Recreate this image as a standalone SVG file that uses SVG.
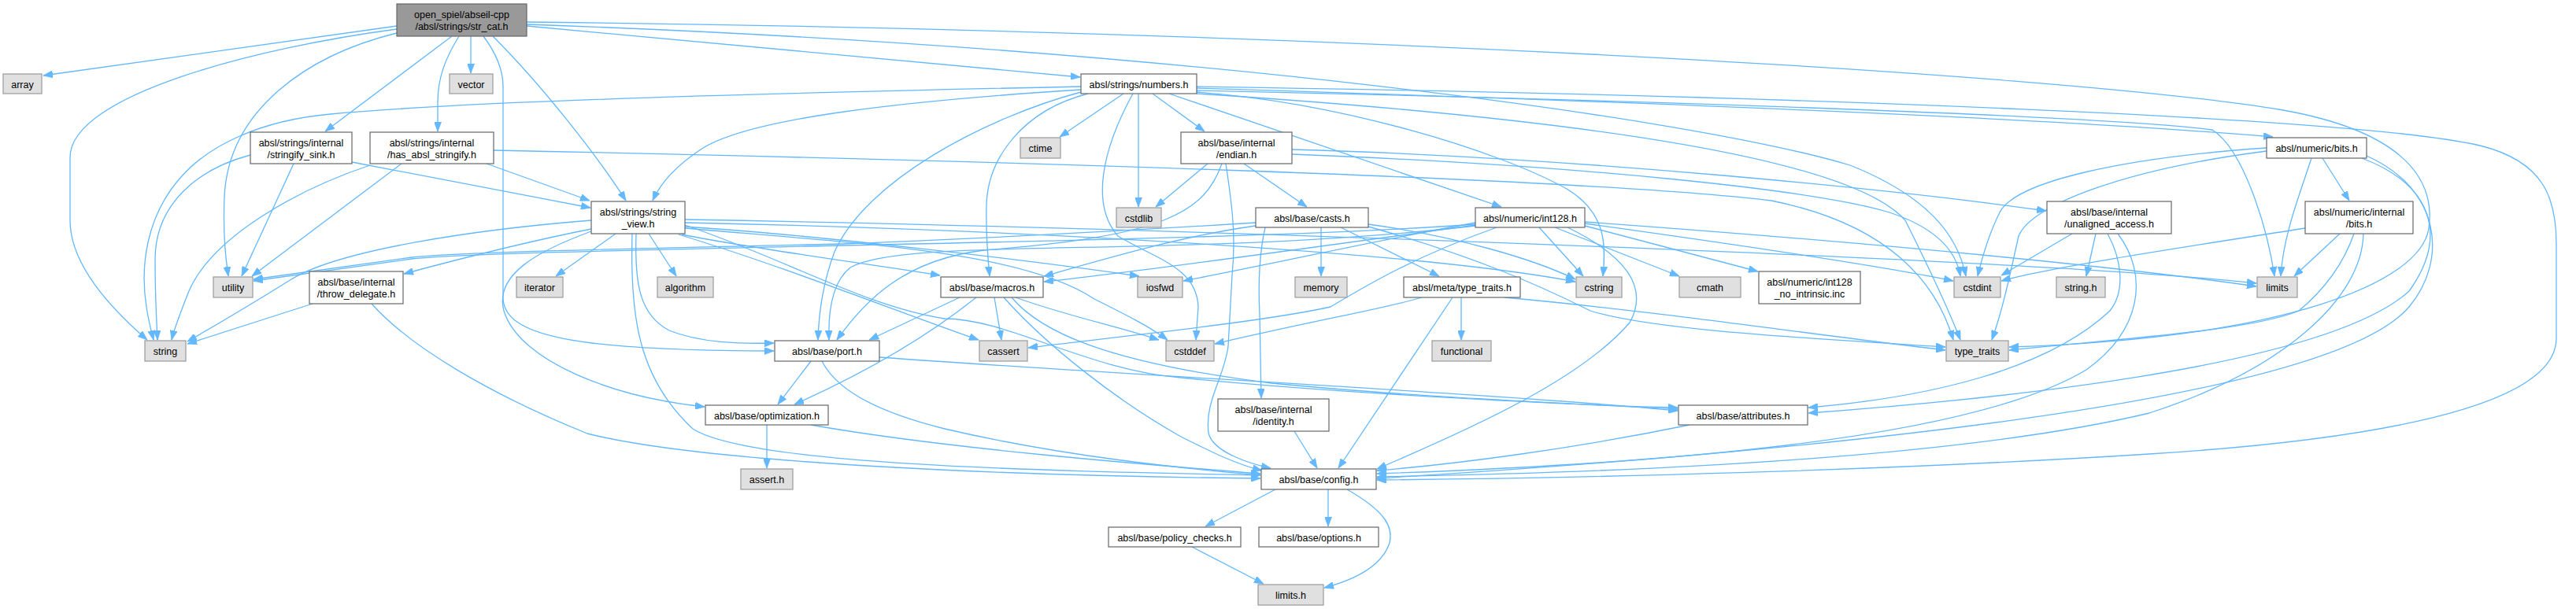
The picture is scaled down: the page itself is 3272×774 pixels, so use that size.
<svg xmlns="http://www.w3.org/2000/svg" width="3272" height="774" viewBox="0 0 3272 774">
<defs>
<style>
.n rect{fill:#ffffff;stroke:#666666;stroke-width:1.2}
.x rect{fill:#e0e0e0;stroke:#999999;stroke-width:1.2}
.r rect{fill:#999999;stroke:#666666;stroke-width:1.2}
text{font-family:"Liberation Sans",Arial,Helvetica,sans-serif;font-size:12.5px;fill:#000000;text-anchor:middle}
#edges path{fill:none;stroke:#63b8ff;stroke-width:1.3;marker-end:url(#ah)}
</style>
<marker id="ah" viewBox="0 0 12 9" refX="12" refY="4.5" markerWidth="12" markerHeight="9" markerUnits="userSpaceOnUse" orient="auto">
<path d="M0,0 L12,4.5 L0,9 z" fill="#63b8ff" stroke="#63b8ff" stroke-width="0.8"/>
</marker>
</defs>
<rect x="0" y="0" width="3272" height="774" fill="#ffffff"/>
<g id="edges">
<path d="M504,33 L55,96"/>
<path d="M504,37 C330,60 89,120 89,200 L89,280 C89,340 150,400 187,432"/>
<path d="M504,42 C390,70 290,140 285,250 C283,300 287,330 290,351"/>
<path d="M574,46 L413,167"/>
<path d="M583,46 C565,75 556,100 556,130 L556,167"/>
<path d="M598,46 L598,93"/>
<path d="M614,46 C632,70 639,90 639,110 L639,380 C642,425 720,446 983,446"/>
<path d="M626,46 C690,110 760,200 795,255"/>
<path d="M669,33 L1372,98"/>
<path d="M669,31 C1500,60 2150,150 2350,210 C2450,250 2487,300 2497,351"/>
<path d="M669,28 C1600,38 2600,90 2900,140 C3040,165 3095,220 3085,290 C3075,360 2900,430 2552,441"/>
<path d="M318,197 C250,215 197,260 197,330 C197,380 199,410 200,432"/>
<path d="M373,208 L307,351"/>
<path d="M447,206 C550,225 650,245 750,264"/>
<path d="M470,210 C380,240 270,300 240,370 C230,395 222,415 218,432"/>
<path d="M510,208 L320,351"/>
<path d="M618,208 L749,255"/>
<path d="M627,191 C1200,203 2000,225 2250,255 C2400,285 2460,360 2481,432"/>
<path d="M782,297 L706,351"/>
<path d="M824,297 L859,351"/>
<path d="M751,280 C600,292 430,318 370,355 C330,380 280,410 238,434"/>
<path d="M751,291 C680,305 580,330 513,348"/>
<path d="M808,297 C806,360 812,400 850,420 C890,436 940,437 983,436"/>
<path d="M751,294 C680,320 628,350 640,395 C660,460 780,505 895,517"/>
<path d="M803,297 C800,400 810,480 880,545 C950,590 1300,598 1601,604"/>
<path d="M866,298 C950,315 1100,335 1194,350"/>
<path d="M862,298 C1000,340 1150,400 1243,432"/>
<path d="M870,290 C1100,310 1300,320 1390,380 C1430,400 1460,415 1483,432"/>
<path d="M870,288 C1050,300 1300,330 1447,351"/>
<path d="M870,283 C1300,292 1800,320 2001,358"/>
<path d="M870,279 C1500,290 2600,330 2866,360"/>
<path d="M870,286 C1000,330 1100,390 1200,405 C1280,405 1380,470 1500,480 C1700,500 2000,515 2131,518"/>
<path d="M1427,119 L1346,174"/>
<path d="M1446,119 L1446,263"/>
<path d="M1464,119 L1530,167"/>
<path d="M1485,119 L1907,263"/>
<path d="M1382,119 C1300,140 1255,200 1253,260 C1252,300 1255,330 1257,351"/>
<path d="M1373,117 C1250,150 1100,230 1060,320 C1045,360 1040,395 1039,432"/>
<path d="M1373,110 C1000,118 600,128 420,145 C330,153 265,185 230,225 C185,275 178,340 186,390 C189,410 192,420 195,432"/>
<path d="M1373,114 C1150,128 950,150 890,190 C860,210 840,230 829,255"/>
<path d="M1439,119 C1400,190 1385,260 1420,300 C1470,330 1520,340 1522,390 L1519,432"/>
<path d="M1520,117 C1700,130 1900,190 1990,240 C2040,270 2040,310 2036,351"/>
<path d="M1520,112 C2100,130 2600,150 2887,174"/>
<path d="M1520,115 C2200,130 2700,150 2810,165 C2850,190 2880,290 2889,351"/>
<path d="M1520,119 C2000,150 2350,200 2420,280 C2440,320 2470,380 2490,432"/>
<path d="M1520,110 C2300,122 3000,150 3150,185 C3230,205 3247,250 3247,310 L3247,430 C3247,520 3000,560 2730,577 C2400,598 2000,608 1749,610"/>
<path d="M1534,208 L1468,263"/>
<path d="M1580,208 L1660,263"/>
<path d="M1641,190 C2000,200 2400,240 2599,268"/>
<path d="M1641,196 C2000,210 2300,240 2400,270 C2460,290 2485,320 2490,351"/>
<path d="M1552,208 C1530,270 1480,300 1250,318 C1150,330 1100,380 1063,432"/>
<path d="M1557,208 C1565,260 1570,300 1565,350 L1560,440 C1555,480 1530,510 1535,550 C1540,575 1590,590 1614,595"/>
<path d="M1678,289 L1678,351"/>
<path d="M1703,289 L1828,351"/>
<path d="M1738,285 C1850,300 1950,330 2001,355"/>
<path d="M1738,288 C1870,325 1950,360 2020,395 C2100,420 2300,430 2471,441"/>
<path d="M1595,287 C1500,300 1400,330 1326,351"/>
<path d="M1607,289 C1600,320 1598,360 1600,400 L1602,506"/>
<path d="M1595,283 C1400,295 1200,305 1069,310 C800,316 600,320 523,327 L322,355"/>
<path d="M1901,289 C1800,325 1740,360 1690,390 C1600,410 1400,430 1306,442"/>
<path d="M1975,289 L2133,351"/>
<path d="M1955,289 L2011,351"/>
<path d="M2013,287 L2233,345"/>
<path d="M2013,284 C2200,310 2400,340 2481,357"/>
<path d="M2013,282 C2400,310 2700,340 2866,364"/>
<path d="M1874,283 C1750,305 1620,335 1503,357"/>
<path d="M1874,285 C1700,298 1400,305 1069,312 C800,318 600,322 523,329 L322,357"/>
<path d="M1874,286 C1700,310 1450,345 1326,358"/>
<path d="M1874,287 C1500,330 1150,300 1080,340 C1055,360 1052,400 1053,432"/>
<path d="M1991,289 C2065,325 2095,365 2070,410 C2010,480 1880,540 1749,596"/>
<path d="M1806,378 C1760,392 1680,405 1543,437"/>
<path d="M1856,378 L1856,432"/>
<path d="M1845,378 L1700,595"/>
<path d="M1911,378 C2100,395 2300,425 2471,445"/>
<path d="M1644,548 L1673,595"/>
<path d="M2632,297 L2542,350"/>
<path d="M2662,297 L2650,351"/>
<path d="M2677,297 C2695,330 2700,370 2680,395 C2600,470 2450,505 2297,518"/>
<path d="M2690,297 C2730,350 2720,420 2650,470 C2500,560 2100,590 1749,602"/>
<path d="M2879,188 C2700,200 2560,230 2540,270 C2525,300 2517,330 2512,351"/>
<path d="M2879,192 C2700,215 2580,260 2564,300 C2555,340 2545,390 2530,432"/>
<path d="M2936,201 C2920,250 2900,300 2897,351"/>
<path d="M2950,201 L2984,255"/>
<path d="M3000,201 C3090,235 3110,300 3060,370 C2950,470 2500,510 2297,525"/>
<path d="M3006,198 C3100,240 3110,330 3060,390 C2950,520 2200,580 1749,608"/>
<path d="M2928,290 C2800,310 2600,340 2542,357"/>
<path d="M2972,297 L2914,351"/>
<path d="M2990,297 C2975,340 2950,370 2920,395 C2860,420 2700,430 2552,445"/>
<path d="M3002,297 C3000,380 2900,470 2730,525 C2500,580 2100,600 1749,606"/>
<path d="M1030,459 L988,514"/>
<path d="M1044,459 C1060,490 1100,520 1200,545 C1350,580 1500,595 1601,604"/>
<path d="M1117,454 C1400,475 1900,500 2131,522"/>
<path d="M1219,378 L1104,432"/>
<path d="M1240,378 C1200,410 1130,460 1009,514"/>
<path d="M1263,378 L1272,432"/>
<path d="M1290,378 C1350,400 1420,415 1472,432"/>
<path d="M1285,378 C1320,420 1400,460 1615,487 C1800,505 2000,513 2131,520"/>
<path d="M1275,378 C1330,440 1420,510 1500,555 C1540,575 1570,590 1603,598"/>
<path d="M974,540 L974,595"/>
<path d="M1030,540 C1200,570 1450,590 1601,602"/>
<path d="M397,386 L238,437"/>
<path d="M472,386 C520,440 620,500 746,551 C900,590 1300,605 1601,608"/>
<path d="M2146,540 C2000,570 1850,590 1749,598"/>
<path d="M1620,622 L1531,669"/>
<path d="M1687,622 L1687,669"/>
<path d="M1711,622 C1760,650 1770,670 1765,690 C1755,720 1720,737 1682,747"/>
<path d="M1514,695 L1605,742"/>
</g>
<g id="root" class="r"><rect x="504" y="5" width="165" height="41"/><text x="586.5" y="22.5">open_spiel/abseil-cpp</text><text x="586.5" y="37.5">/absl/strings/str_cat.h</text></g>
<g id="array" class="x"><rect x="4" y="94" width="49" height="25"/><text x="28.5" y="111.5">array</text></g>
<g id="vector" class="x"><rect x="571" y="94" width="55" height="25"/><text x="598.5" y="111.5">vector</text></g>
<g id="numbers" class="n"><rect x="1373" y="94" width="147" height="25"/><text x="1446.5" y="111.5">absl/strings/numbers.h</text></g>
<g id="stringify_sink" class="n"><rect x="318" y="168" width="129" height="40"/><text x="382.5" y="185.5">absl/strings/internal</text><text x="382.5" y="200.5">/stringify_sink.h</text></g>
<g id="has_absl_stringify" class="n"><rect x="470" y="168" width="157" height="40"/><text x="548.5" y="185.5">absl/strings/internal</text><text x="548.5" y="200.5">/has_absl_stringify.h</text></g>
<g id="ctime" class="x"><rect x="1296" y="175" width="51" height="26"/><text x="1321.5" y="192.5">ctime</text></g>
<g id="endian" class="n"><rect x="1500" y="168" width="141" height="40"/><text x="1570.5" y="185.5">absl/base/internal</text><text x="1570.5" y="200.5">/endian.h</text></g>
<g id="bits" class="n"><rect x="2879" y="175" width="127" height="26"/><text x="2942.5" y="192.5">absl/numeric/bits.h</text></g>
<g id="string_view" class="n"><rect x="751" y="256" width="119" height="41"/><text x="810.5" y="273.5">absl/strings/string</text><text x="810.5" y="288.5">_view.h</text></g>
<g id="cstdlib" class="x"><rect x="1418" y="264" width="57" height="25"/><text x="1446.5" y="281.5">cstdlib</text></g>
<g id="casts" class="n"><rect x="1595" y="264" width="143" height="25"/><text x="1666.5" y="281.5">absl/base/casts.h</text></g>
<g id="int128" class="n"><rect x="1874" y="264" width="139" height="25"/><text x="1943.5" y="281.5">absl/numeric/int128.h</text></g>
<g id="unaligned_access" class="n"><rect x="2600" y="256" width="158" height="41"/><text x="2679" y="273.5">absl/base/internal</text><text x="2679" y="288.5">/unaligned_access.h</text></g>
<g id="internal_bits" class="n"><rect x="2928" y="256" width="137" height="41"/><text x="2996.5" y="273.5">absl/numeric/internal</text><text x="2996.5" y="288.5">/bits.h</text></g>
<g id="utility" class="x"><rect x="271" y="352" width="50" height="26"/><text x="296" y="369.5">utility</text></g>
<g id="throw_delegate" class="n"><rect x="393" y="345" width="119" height="41"/><text x="452.5" y="362.5">absl/base/internal</text><text x="452.5" y="377.5">/throw_delegate.h</text></g>
<g id="iterator" class="x"><rect x="656" y="352" width="59" height="26"/><text x="685.5" y="369.5">iterator</text></g>
<g id="algorithm" class="x"><rect x="835" y="352" width="71" height="26"/><text x="870.5" y="369.5">algorithm</text></g>
<g id="macros" class="n"><rect x="1195" y="352" width="130" height="26"/><text x="1260" y="369.5">absl/base/macros.h</text></g>
<g id="iosfwd" class="x"><rect x="1445" y="352" width="57" height="26"/><text x="1473.5" y="369.5">iosfwd</text></g>
<g id="memory" class="x"><rect x="1645" y="352" width="66" height="26"/><text x="1678" y="369.5">memory</text></g>
<g id="meta_type_traits" class="n"><rect x="1783" y="352" width="148" height="26"/><text x="1857" y="369.5">absl/meta/type_traits.h</text></g>
<g id="cstring" class="x"><rect x="2002" y="352" width="58" height="26"/><text x="2031" y="369.5">cstring</text></g>
<g id="cmath" class="x"><rect x="2133" y="352" width="78" height="26"/><text x="2172" y="369.5">cmath</text></g>
<g id="int128_no_intrinsic" class="n"><rect x="2234" y="345" width="129" height="41"/><text x="2298.5" y="362.5">absl/numeric/int128</text><text x="2298.5" y="377.5">_no_intrinsic.inc</text></g>
<g id="cstdint" class="x"><rect x="2482" y="352" width="59" height="26"/><text x="2511.5" y="369.5">cstdint</text></g>
<g id="string_h" class="x"><rect x="2612" y="352" width="62" height="26"/><text x="2643" y="369.5">string.h</text></g>
<g id="limits" class="x"><rect x="2867" y="352" width="51" height="26"/><text x="2892.5" y="369.5">limits</text></g>
<g id="string" class="x"><rect x="184" y="433" width="52" height="26"/><text x="210" y="450.5">string</text></g>
<g id="port" class="n"><rect x="984" y="433" width="133" height="26"/><text x="1050.5" y="450.5">absl/base/port.h</text></g>
<g id="cassert" class="x"><rect x="1244" y="433" width="61" height="26"/><text x="1274.5" y="450.5">cassert</text></g>
<g id="cstddef" class="x"><rect x="1481" y="433" width="61" height="26"/><text x="1511.5" y="450.5">cstddef</text></g>
<g id="functional" class="x"><rect x="1819" y="433" width="75" height="26"/><text x="1856.5" y="450.5">functional</text></g>
<g id="type_traits" class="x"><rect x="2472" y="433" width="79" height="26"/><text x="2511.5" y="450.5">type_traits</text></g>
<g id="optimization" class="n"><rect x="896" y="515" width="156" height="25"/><text x="974" y="532.5">absl/base/optimization.h</text></g>
<g id="identity" class="n"><rect x="1547" y="507" width="141" height="41"/><text x="1617.5" y="524.5">absl/base/internal</text><text x="1617.5" y="539.5">/identity.h</text></g>
<g id="attributes" class="n"><rect x="2132" y="515" width="164" height="25"/><text x="2214" y="532.5">absl/base/attributes.h</text></g>
<g id="assert_h" class="x"><rect x="941" y="596" width="66" height="26"/><text x="974" y="613.5">assert.h</text></g>
<g id="config" class="n"><rect x="1602" y="596" width="146" height="26"/><text x="1675" y="613.5">absl/base/config.h</text></g>
<g id="policy_checks" class="n"><rect x="1408" y="670" width="168" height="25"/><text x="1492" y="687.5">absl/base/policy_checks.h</text></g>
<g id="options" class="n"><rect x="1599" y="670" width="152" height="25"/><text x="1675" y="687.5">absl/base/options.h</text></g>
<g id="limits_h" class="x"><rect x="1598" y="743" width="83" height="26"/><text x="1639.5" y="760.5">limits.h</text></g>
</svg>
